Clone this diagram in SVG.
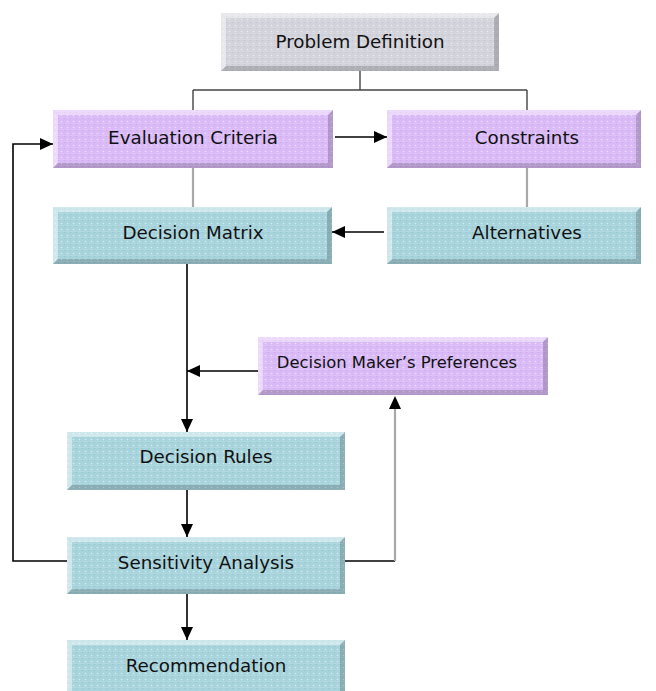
<svg xmlns="http://www.w3.org/2000/svg" width="656" height="691" viewBox="0 0 656 691">
<defs>
<style>
.lbl{font-family:"DejaVu Sans","Liberation Sans",sans-serif;font-size:18.3px;fill:#111;text-anchor:middle}
.small{font-size:16.4px}
.gray{fill:#d3d3dc}
.purple{fill:#dab9f7}
.teal{fill:#a7d4dc}
.hl{fill:#ffffff;opacity:.45}
.sh{fill:#000000;opacity:.18}
.tex{fill:url(#tex)}
.ln{fill:none;stroke:#000;stroke-width:1.6}
.lg{fill:none;stroke:#a8a8a8;stroke-width:2.2}
.ld{fill:none;stroke:#444;stroke-width:1.4}
</style>
<pattern id="tex" width="6" height="6" patternUnits="userSpaceOnUse">
<circle cx="1.5" cy="1.5" r="0.8" fill="#ffffff" opacity="0.55"/>
<circle cx="4.5" cy="4.5" r="0.8" fill="#000000" opacity="0.07"/>
<rect x="0" y="3" width="6" height="0.6" fill="#ffffff" opacity="0.2"/>
</pattern>
<marker id="arr" markerUnits="userSpaceOnUse" markerWidth="13" markerHeight="12" viewBox="0 0 13 12" refX="13" refY="6" orient="auto">
<path d="M0,0 L13,6 L0,12 z" fill="#000"/>
</marker>
</defs>
<rect x="0" y="0" width="656" height="691" fill="#ffffff"/>

<g id="connectors">
<path class="ld" d="M360,71 V90"/>
<path class="ld" d="M193,90 H527"/>
<path class="ld" d="M193,90 V110 M527,90 V110"/>
<path class="ln" d="M335,137 H387" marker-end="url(#arr)"/>
<path class="lg" d="M193,168 V207 M527,168 V207"/>
<path class="ln" d="M384,232 H332" marker-end="url(#arr)"/>
<path class="ln" d="M187,264 V432" marker-end="url(#arr)"/>
<path class="ln" d="M258,371 H187" marker-end="url(#arr)"/>
<path class="ln" d="M187,490 V537" marker-end="url(#arr)"/>
<path class="ln" d="M187,594 V640" marker-end="url(#arr)"/>
<path class="ln" d="M67,561 H13 V144 H53" marker-end="url(#arr)"/>
<path class="ln" d="M345,561 H395"/>
<path class="lg" d="M395,561 V408"/>
<path d="M389,409 L395,396 L401,409 z" fill="#000"/>
</g>

<g id="problem-definition">
<rect class="gray" x="221" y="13" width="278" height="58"/>
<rect class="tex" x="221" y="13" width="278" height="58"/>
<polygon class="hl" points="221,13 499,13 494,18 226,18"/>
<polygon class="hl" points="221,13 226,18 226,66 221,71"/>
<polygon class="sh" points="499,13 499,71 494,66 494,18"/>
<polygon class="sh" points="221,71 499,71 494,66 226,66"/>
<text class="lbl" x="360" y="48">Problem Definition</text>
</g>

<g id="evaluation-criteria">
<rect class="purple" x="53" y="110" width="280" height="58"/>
<rect class="tex" x="53" y="110" width="280" height="58"/>
<polygon class="hl" points="53,110 333,110 328,115 58,115"/>
<polygon class="hl" points="53,110 58,115 58,163 53,168"/>
<polygon class="sh" points="333,110 333,168 328,163 328,115"/>
<polygon class="sh" points="53,168 333,168 328,163 58,163"/>
<text class="lbl" x="193" y="144">Evaluation Criteria</text>
</g>

<g id="constraints">
<rect class="purple" x="387" y="110" width="254" height="58"/>
<rect class="tex" x="387" y="110" width="254" height="58"/>
<polygon class="hl" points="387,110 641,110 636,115 392,115"/>
<polygon class="hl" points="387,110 392,115 392,163 387,168"/>
<polygon class="sh" points="641,110 641,168 636,163 636,115"/>
<polygon class="sh" points="387,168 641,168 636,163 392,163"/>
<text class="lbl" x="527" y="144">Constraints</text>
</g>

<g id="decision-matrix">
<rect class="teal" x="53" y="207" width="279" height="57"/>
<rect class="tex" x="53" y="207" width="279" height="57"/>
<polygon class="hl" points="53,207 332,207 327,212 58,212"/>
<polygon class="hl" points="53,207 58,212 58,259 53,264"/>
<polygon class="sh" points="332,207 332,264 327,259 327,212"/>
<polygon class="sh" points="53,264 332,264 327,259 58,259"/>
<text class="lbl" x="193" y="239">Decision Matrix</text>
</g>

<g id="alternatives">
<rect class="teal" x="387" y="207" width="254" height="57"/>
<rect class="tex" x="387" y="207" width="254" height="57"/>
<polygon class="hl" points="387,207 641,207 636,212 392,212"/>
<polygon class="hl" points="387,207 392,212 392,259 387,264"/>
<polygon class="sh" points="641,207 641,264 636,259 636,212"/>
<polygon class="sh" points="387,264 641,264 636,259 392,259"/>
<text class="lbl" x="527" y="239">Alternatives</text>
</g>

<g id="decision-makers-preferences">
<rect class="purple" x="258" y="337" width="290" height="58"/>
<rect class="tex" x="258" y="337" width="290" height="58"/>
<polygon class="hl" points="258,337 548,337 543,342 263,342"/>
<polygon class="hl" points="258,337 263,342 263,390 258,395"/>
<polygon class="sh" points="548,337 548,395 543,390 543,342"/>
<polygon class="sh" points="258,395 548,395 543,390 263,390"/>
<text class="lbl small" x="397" y="368">Decision Maker’s Preferences</text>
</g>

<g id="decision-rules">
<rect class="teal" x="67" y="432" width="278" height="58"/>
<rect class="tex" x="67" y="432" width="278" height="58"/>
<polygon class="hl" points="67,432 345,432 340,437 72,437"/>
<polygon class="hl" points="67,432 72,437 72,485 67,490"/>
<polygon class="sh" points="345,432 345,490 340,485 340,437"/>
<polygon class="sh" points="67,490 345,490 340,485 72,485"/>
<text class="lbl" x="206" y="463">Decision Rules</text>
</g>

<g id="sensitivity-analysis">
<rect class="teal" x="67" y="537" width="278" height="57"/>
<rect class="tex" x="67" y="537" width="278" height="57"/>
<polygon class="hl" points="67,537 345,537 340,542 72,542"/>
<polygon class="hl" points="67,537 72,542 72,589 67,594"/>
<polygon class="sh" points="345,537 345,594 340,589 340,542"/>
<polygon class="sh" points="67,594 345,594 340,589 72,589"/>
<text class="lbl" x="206" y="569">Sensitivity Analysis</text>
</g>

<g id="recommendation">
<rect class="teal" x="67" y="640" width="278" height="58"/>
<rect class="tex" x="67" y="640" width="278" height="58"/>
<polygon class="hl" points="67,640 345,640 340,645 72,645"/>
<polygon class="hl" points="67,640 72,645 72,693 67,698"/>
<polygon class="sh" points="345,640 345,698 340,693 340,645"/>
<text class="lbl" x="206" y="672">Recommendation</text>
</g>
</svg>
